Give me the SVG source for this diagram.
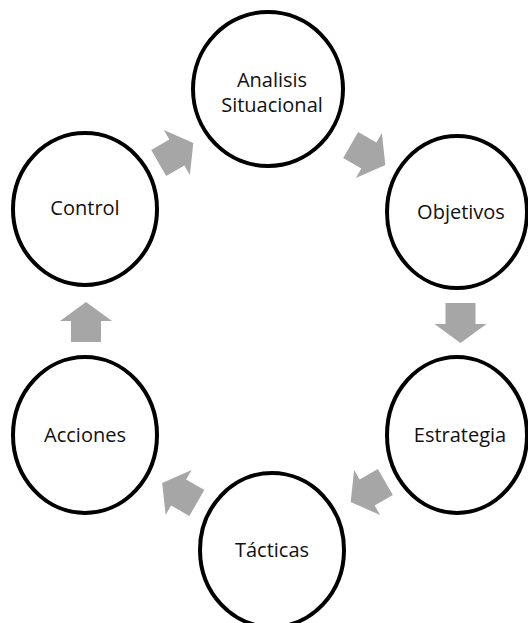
<svg xmlns="http://www.w3.org/2000/svg" width="528" height="623" viewBox="0 0 528 623">
<style>
.node ellipse{fill:#fff;stroke:#000;stroke-width:4}
.node text{font-family:"Open Sans","Noto Sans",sans-serif;font-size:20px;fill:#111;text-anchor:middle}
.arrow{fill:#A6A6A6}
</style>
<defs>
<polygon id="blk" points="-20,-15 1,-15 1,-26 20,0 1,26 1,15 -20,15"/>
</defs>
<rect width="528" height="623" fill="#fff"/>
<g id="connectors">
<use href="#blk" class="arrow" transform="translate(176,153) rotate(-30)"/>
<use href="#blk" class="arrow" transform="translate(368,155) rotate(30)"/>
<use href="#blk" class="arrow" transform="translate(460.5,323) rotate(90)"/>
<use href="#blk" class="arrow" transform="translate(368,492) rotate(150)"/>
<use href="#blk" class="arrow" transform="translate(179.5,493) rotate(210)"/>
<use href="#blk" class="arrow" transform="translate(86,322) rotate(-90)"/>
</g>
<g id="analisis" class="node"><ellipse cx="268" cy="89" rx="75" ry="77"/><text x="272" y="87">Analisis</text><text x="272" y="112">Situacional</text></g>
<g id="objetivos" class="node"><ellipse cx="457" cy="212" rx="70" ry="76"/><text x="461" y="219">Objetivos</text></g>
<g id="estrategia" class="node"><ellipse cx="457" cy="435" rx="70" ry="78"/><text x="460" y="442">Estrategia</text></g>
<g id="tacticas" class="node"><ellipse cx="272" cy="550" rx="72" ry="77"/><text x="272" y="557">Tácticas</text></g>
<g id="acciones" class="node"><ellipse cx="85" cy="435" rx="72" ry="78"/><text x="85" y="442">Acciones</text></g>
<g id="control" class="node"><ellipse cx="85" cy="209" rx="72" ry="76"/><text x="85" y="215">Control</text></g>
</svg>
